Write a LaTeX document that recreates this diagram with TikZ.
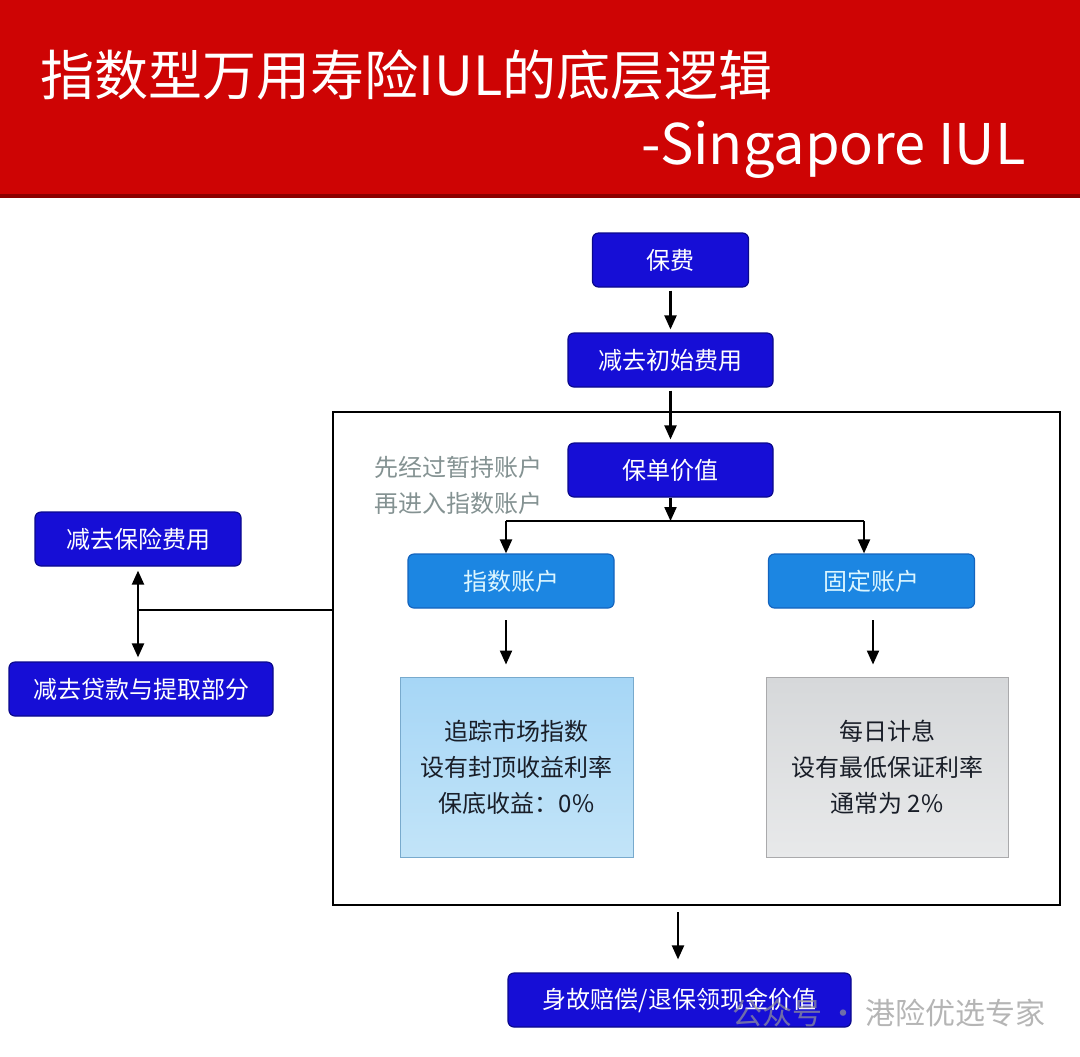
\documentclass[tikz,border=0pt]{standalone}
\usepackage{fontspec}
\setmainfont{Noto Sans CJK SC}
\usetikzlibrary{arrows.meta}
\definecolor{bannerred}{RGB}{206,4,4}
\definecolor{bannerdark}{RGB}{140,0,0}
\definecolor{dblue}{RGB}{22,14,214}
\definecolor{dblueedge}{RGB}{10,8,140}
\definecolor{mblue}{RGB}{28,134,226}
\definecolor{mblueedge}{RGB}{20,100,190}
\definecolor{mtext}{RGB}{220,246,255}
\definecolor{lblueTop}{RGB}{166,214,246}
\definecolor{lblueBot}{RGB}{194,228,248}
\definecolor{lblueedge}{RGB}{120,170,205}
\definecolor{greyTop}{RGB}{214,216,218}
\definecolor{greyBot}{RGB}{232,233,234}
\definecolor{greyedge}{RGB}{170,170,172}
\definecolor{notegrey}{RGB}{132,146,146}
\definecolor{boxtext}{RGB}{25,30,40}
\definecolor{wmgrey}{RGB}{150,150,150}
\tikzset{
  darkbox/.style={rectangle, rounded corners=3pt, fill=dblue, draw=dblueedge, line width=0.6pt,
    minimum height=27pt, text=white, font=\fontsize{12}{14}\selectfont, inner sep=0pt},
  midbox/.style={rectangle, rounded corners=3pt, fill=mblue, draw=mblueedge, line width=0.6pt,
    minimum height=27pt, minimum width=103pt, text=mtext, font=\fontsize{12}{14}\selectfont, inner sep=0pt},
  infobox/.style={rectangle, minimum height=90pt, align=center, text=boxtext,
    font=\fontsize{12}{18}\selectfont, inner sep=0pt, line width=0.5pt},
  arr/.style={-{Triangle[length=7pt,width=6pt]}, line width=1.1pt},
  dblarr/.style={{Triangle[length=7pt,width=6pt]}-{Triangle[length=7pt,width=6pt]}, line width=1.1pt},
  plainline/.style={line width=1.1pt},
}
\begin{document}
\begin{tikzpicture}[x=0.5pt,y=-0.5pt]
\useasboundingbox (0,0) rectangle (1080,1056);
\fill[white] (0,0) rectangle (1080,1056);
% banner
\fill[bannerred] (0,0) rectangle (1080,195);
\fill[bannerdark] (0,194) rectangle (1080,198);
\node[anchor=west, text=white, font=\fontsize{27}{30}\selectfont, inner sep=0pt] (title) at (40,75) {指数型万用寿险IUL的底层逻辑};
\node[anchor=east, text=white, font=\fontsize{28}{32}\selectfont, inner sep=0pt] (subtitle) at (1026,150) {-Singapore IUL};

% big frame
\draw[line width=0.9pt] (333,412) rectangle (1060,905);
\coordinate (frameS) at (678,905);
\coordinate (frameW) at (333,610);

% nodes
\node[darkbox, minimum width=78pt] (prem) at (670.5,260) {保费};
\node[darkbox, minimum width=102.5pt] (init) at (670.5,360) {减去初始费用};
\node[darkbox, minimum width=102.5pt] (pv) at (670.5,470) {保单价值};
\node[midbox] (idx) at (511,581) {指数账户};
\node[midbox] (fix) at (871.5,581) {固定账户};
\node[infobox, minimum width=116.5pt, top color=lblueTop, bottom color=lblueBot, draw=lblueedge] (idxinfo) at (516.5,767) {追踪市场指数\\设有封顶收益利率\\保底收益：0\%};
\node[infobox, minimum width=121pt, top color=greyTop, bottom color=greyBot, draw=greyedge] (fixinfo) at (887,767) {每日计息\\设有最低保证利率\\通常为 2\%};
\node[darkbox, minimum width=103pt] (ins) at (138,539) {减去保险费用};
\node[darkbox, minimum width=132pt] (loan) at (141,689) {减去贷款与提取部分};
\node[darkbox, minimum width=171.5pt] (death) at (679.5,1000) {身故赔偿/退保领现金价值};

% watermark
\node[anchor=east, text=wmgrey, opacity=0.7, font=\fontsize{15}{18}\selectfont, inner sep=0pt] (wm) at (1046,1013) {公众号 · 港险优选专家};

% note
\node[anchor=west, text=notegrey, align=left, font=\fontsize{12}{18}\selectfont, inner sep=0pt] (note) at (374,485) {先经过暂持账户\\再进入指数账户};

% connectors
\draw[arr, shorten <=1.5pt, shorten >=1.5pt] (prem.south) -- (init.north);
\draw[arr, shorten <=1.5pt, shorten >=1.5pt] (init.south) -- (pv.north);
\coordinate (jc) at (670.5,521);
\coordinate (jL) at (506,521);
\coordinate (jR) at (864,521);
\draw[arr] (pv.south) -- (jc);
\draw[plainline] (jL) -- (jR);
\draw[arr] (jL) -- (jL |- idx.north);
\draw[arr] (jR) -- (jR |- fix.north);
\coordinate (aL) at (506,608);
\coordinate (aR) at (873,608);
\draw[arr, shorten <=6pt, shorten >=6pt] (aL) -- (aL |- idxinfo.north);
\draw[arr, shorten <=6pt, shorten >=6pt] (aR) -- (aR |- fixinfo.north);
\coordinate (lx) at (138,610);
\draw[dblarr, shorten <=2pt, shorten >=2pt] (ins.south -| lx) -- (loan.north -| lx);
\draw[plainline] (lx) -- (frameW);
\draw[arr, shorten <=3.5pt, shorten >=6.5pt] (frameS) -- (frameS |- death.north);
\end{tikzpicture}
\end{document}
